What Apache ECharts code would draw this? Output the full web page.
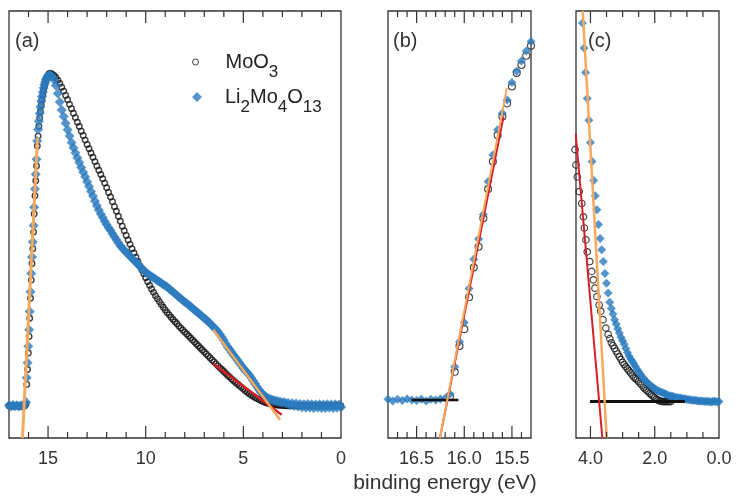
<!DOCTYPE html>
<html>
<head>
<meta charset="utf-8">
<script src="https://cdn.jsdelivr.net/npm/echarts@6/dist/echarts.min.js"></script>
<style>
  html, body { margin: 0; padding: 0; background: #fff; }
  #root { width: 736px; height: 497px; }
</style>
</head>
<body>
<div id="root"></div>
<script>
// ---- panel (a): full spectrum, intensity scaled to the peak ----
var aEnergy = [
  17.0, 16.9, 16.8, 16.7, 16.6, 16.5, 16.4, 16.3, 16.2, 16.13,
  16.09, 16.05, 16.01, 15.97, 15.94, 15.90, 15.86, 15.82, 15.78, 15.74, 15.71, 15.67, 15.63, 15.59, 15.55,
  15.51, 15.47, 15.43, 15.39, 15.35, 15.31, 15.27, 15.23, 15.19, 15.15, 15.11, 15.07, 15.03, 14.99, 14.95, 14.90,
  14.8, 14.7, 14.6, 14.5, 14.4, 14.3, 14.2, 14.1, 14.0, 13.9,
  13.8, 13.7, 13.6, 13.5, 13.4, 13.3, 13.2, 13.1, 13.0, 12.9,
  12.8, 12.7, 12.6, 12.5, 12.4, 12.3, 12.2, 12.1, 12.0, 11.9,
  11.8, 11.7, 11.6, 11.5, 11.4, 11.3, 11.2, 11.1, 11.0, 10.9,
  10.8, 10.7, 10.6, 10.5, 10.4, 10.3, 10.2, 10.1, 10.0, 9.9,
  9.8, 9.7, 9.6, 9.5, 9.4, 9.3, 9.2, 9.1, 9.0, 8.9,
  8.8, 8.7, 8.6, 8.5, 8.4, 8.3, 8.2, 8.1, 8.0, 7.9,
  7.8, 7.7, 7.6, 7.5, 7.4, 7.3, 7.2, 7.1, 7.0, 6.9,
  6.8, 6.7, 6.6, 6.5, 6.4, 6.3, 6.2, 6.1, 6.0, 5.9,
  5.8, 5.7, 5.6, 5.5, 5.4, 5.3, 5.2, 5.1, 5.0, 4.9,
  4.8, 4.7, 4.6, 4.5, 4.4, 4.3, 4.2, 4.1, 4.0, 3.9,
  3.8, 3.7, 3.6, 3.5, 3.4, 3.3, 3.2, 3.1, 3.0, 2.9,
  2.8, 2.7, 2.6, 2.5, 2.4, 2.3, 2.2, 2.1, 2.0, 1.9,
  1.8, 1.7, 1.6, 1.5, 1.4, 1.3, 1.2, 1.1, 1.0, 0.9,
  0.8, 0.7, 0.6, 0.5, 0.4, 0.3, 0.2, 0.1, 0.0
];
var aMoO3 = [
  0, 0.001, -0.001, 0, 0.001, 0, -0.001, 0.001, 0, 0.005,
  0.065, 0.11, 0.16, 0.21, 0.265, 0.325, 0.38, 0.43, 0.475, 0.525, 0.58, 0.635, 0.68, 0.725, 0.785,
  0.815, 0.845, 0.87, 0.89, 0.91, 0.925, 0.94, 0.953, 0.965, 0.975, 0.984, 0.991, 0.996, 1.0, 1.003, 1.005,
  1.003, 0.998, 0.992, 0.984, 0.974, 0.963, 0.951, 0.938, 0.925, 0.911,
  0.898, 0.884, 0.871, 0.857, 0.844, 0.830, 0.817, 0.803, 0.790, 0.777,
  0.764, 0.751, 0.738, 0.725, 0.712, 0.699, 0.686, 0.673, 0.659, 0.645,
  0.631, 0.617, 0.602, 0.588, 0.573, 0.558, 0.543, 0.529, 0.515, 0.501,
  0.488, 0.475, 0.462, 0.449, 0.436, 0.423, 0.411, 0.399, 0.387, 0.375,
  0.364, 0.353, 0.343, 0.333, 0.324, 0.315, 0.306, 0.298, 0.290, 0.282,
  0.275, 0.268, 0.261, 0.254, 0.248, 0.241, 0.235, 0.229, 0.223, 0.217,
  0.211, 0.205, 0.199, 0.193, 0.187, 0.181, 0.175, 0.169, 0.163, 0.157,
  0.151, 0.145, 0.139, 0.133, 0.127, 0.121, 0.115, 0.110, 0.104, 0.098,
  0.092, 0.087, 0.081, 0.076, 0.071, 0.066, 0.061, 0.056, 0.051, 0.046,
  0.041, 0.037, 0.033, 0.029, 0.025, 0.022, 0.019, 0.016, 0.013, 0.011,
  0.009, 0.007, 0.006, 0.005, 0.004, 0.003, 0.002, 0.002, 0.001, 0.001,
  0, 0.001, 0, 0.001, 0, 0.001, 0, 0.001, 0, 0.001,
  0, 0.001, 0, 0.001, 0, 0.001, 0, 0.001, 0, 0.001,
  0, 0.001, 0, 0.001, 0, 0.001, 0, 0.001, 0
];
var aLiMo = [
  0.002, -0.002, 0.003, -0.001, 0.002, -0.002, 0.001, -0.002, 0.003, 0.012,
  0.085, 0.13, 0.18, 0.23, 0.285, 0.345, 0.40, 0.45, 0.495, 0.545, 0.60, 0.655, 0.70, 0.745, 0.80,
  0.835, 0.86, 0.883, 0.903, 0.92, 0.935, 0.948, 0.96, 0.97, 0.978, 0.985, 0.99, 0.995, 0.998, 1.0, 1.0,
  0.995, 0.985, 0.968, 0.944, 0.918, 0.894, 0.874, 0.854, 0.834, 0.815,
  0.796, 0.780, 0.765, 0.750, 0.735, 0.720, 0.706, 0.692, 0.677, 0.663,
  0.648, 0.634, 0.619, 0.605, 0.592, 0.580, 0.569, 0.558, 0.548, 0.538,
  0.530, 0.520, 0.511, 0.502, 0.493, 0.484, 0.477, 0.470, 0.464, 0.458,
  0.452, 0.446, 0.440, 0.434, 0.428, 0.422, 0.416, 0.410, 0.404, 0.399,
  0.395, 0.391, 0.387, 0.383, 0.379, 0.375, 0.371, 0.367, 0.363, 0.359,
  0.354, 0.349, 0.344, 0.339, 0.334, 0.329, 0.324, 0.319, 0.314, 0.310,
  0.305, 0.300, 0.295, 0.290, 0.285, 0.280, 0.275, 0.270, 0.265, 0.260,
  0.255, 0.249, 0.243, 0.237, 0.231, 0.224, 0.216, 0.207, 0.198, 0.188,
  0.178, 0.170, 0.162, 0.154, 0.146, 0.138, 0.130, 0.122, 0.114, 0.107,
  0.100, 0.093, 0.085, 0.076, 0.067, 0.058, 0.049, 0.041, 0.035, 0.030,
  0.025, 0.022, 0.020, 0.018, 0.016, 0.015, 0.013, 0.012, 0.010, 0.011,
  0.007, 0.009, 0.003, 0.008, 0.000, 0.007, -0.002, 0.006, -0.004, 0.005,
  -0.005, 0.006, -0.005, 0.005, -0.006, 0.004, -0.005, 0.005, -0.006, 0.004,
  -0.006, 0.005, -0.005, 0.004, -0.006, 0.005, -0.005, 0.004, -0.004
];
var aEdgeFit = [[16.31, -0.097], [15.54, 0.81]];
var aLiMoFit = [[6.54, 0.230], [3.12, -0.042]];
var aMoO3Fit = [[6.54, 0.127], [3.04, -0.027]];

// ---- panel (b): onset at high binding energy ----
var bEnergy = [16.8, 16.75, 16.7, 16.65, 16.6, 16.55, 16.5, 16.45, 16.4, 16.35, 16.3, 16.25, 16.2,
  16.15, 16.1, 16.05, 16.0, 15.95, 15.9, 15.85, 15.8, 15.75, 15.7, 15.65, 15.6, 15.55, 15.5, 15.45, 15.4, 15.35, 15.3];
var bLiMo = [0.002, -0.003, 0.002, -0.002, 0.003, 0, -0.002, 0.002, -0.003, 0.002, 0, 0.003, 0.005,
  0.018, 0.10, 0.176, 0.234, 0.337, 0.425, 0.486, 0.56, 0.66, 0.74, 0.816, 0.866, 0.906, 0.959, 0.993, 1.024, 1.054, 1.083];
var bMoO3E = [16.15, 16.1, 16.05, 16.0, 15.95, 15.9, 15.85, 15.8, 15.75, 15.7, 15.65, 15.6, 15.55, 15.5, 15.45, 15.4, 15.35, 15.3];
var bMoO3 = [0.01, 0.085, 0.163, 0.214, 0.31, 0.40, 0.463, 0.549, 0.637, 0.72, 0.80, 0.856, 0.896, 0.947, 0.988, 1.012, 1.04, 1.07];
var bLiMoFit = [[16.255, -0.115], [15.553, 0.942]];
var bMoO3Fit = [[16.255, -0.115], [15.588, 0.856]];
var bBase = [[16.553, 0], [16.062, 0]];

// ---- panel (c): low binding energy tail (intensity x1e-3 of the peak) ----
var cMoO3E = [4.48, 4.45, 4.41, 4.35, 4.27, 4.22, 4.19, 4.14, 4.10, 4.02,
  3.96, 3.91, 3.86, 3.80, 3.73, 3.68, 3.61, 3.52, 3.45, 3.40,
  3.35, 3.30, 3.25, 3.20, 3.15, 3.10, 3.05, 3.00, 2.95, 2.90,
  2.85, 2.80, 2.75, 2.70, 2.65, 2.60, 2.55, 2.50, 2.45, 2.40,
  2.35, 2.30, 2.25, 2.20, 2.15, 2.10, 2.05, 2.00, 1.95, 1.90,
  1.85, 1.80, 1.75, 1.70, 1.65, 1.60, 1.55, 1.50];
var cMoO3 = [36.0, 33.8, 32.1, 30.0, 28.3, 26.4, 24.8, 23.1, 21.4, 20.0,
  18.6, 17.4, 16.2, 15.0, 13.8, 12.9, 11.7, 10.5, 9.6, 9.0,
  8.4, 8.0, 7.6, 7.2, 6.8, 6.4, 6.0, 5.6, 5.3, 5.0,
  4.7, 4.4, 4.1, 3.8, 3.5, 3.3, 3.1, 2.85, 2.6, 2.35,
  2.05, 1.8, 1.6, 1.4, 1.15, 0.95, 0.75, 0.55, 0.35, 0.2,
  0.1, 0.05, 0, 0, 0, 0, 0, 0];
var cLiMoE = [4.25, 4.2, 4.15, 4.1, 4.05, 4.0, 3.95, 3.9, 3.85, 3.8,
  3.75, 3.7, 3.65, 3.6, 3.55, 3.5, 3.45, 3.4, 3.35, 3.3,
  3.25, 3.2, 3.15, 3.1, 3.05, 3.0, 2.95, 2.9, 2.85, 2.8,
  2.75, 2.7, 2.65, 2.6, 2.55, 2.5, 2.45, 2.4, 2.35, 2.3,
  2.25, 2.2, 2.15, 2.1, 2.05, 2.0, 1.95, 1.9, 1.85, 1.8,
  1.75, 1.7, 1.65, 1.6, 1.55, 1.5, 1.45, 1.4, 1.35, 1.3,
  1.25, 1.2, 1.15, 1.1, 1.05, 1.0, 0.95, 0.9, 0.85, 0.8,
  0.75, 0.7, 0.65, 0.6, 0.55, 0.5, 0.45, 0.4, 0.35, 0.3,
  0.25, 0.2, 0.15, 0.1, 0.05, 0.0];
var cLiMo = [54.1, 50.5, 47.0, 43.3, 40.2, 37.0, 34.3, 31.6, 29.4, 27.4,
  25.3, 23.3, 21.7, 20.0, 18.3, 16.9, 15.5, 14.2, 13.3, 12.5,
  11.7, 11.1, 10.4, 9.8, 9.2, 8.7, 8.2, 7.6, 7.0, 6.5,
  6.1, 5.75, 5.4, 5.0, 4.6, 4.25, 3.95, 3.6, 3.3, 3.05,
  2.8, 2.6, 2.4, 2.2, 2.0, 1.85, 1.7, 1.55, 1.45, 1.35,
  1.25, 1.15, 1.05, 0.95, 0.85, 0.8, 0.75, 0.7, 0.6, 0.6,
  0.5, 0.5, 0.45, 0.4, 0.4, 0.3, 0.3, 0.25, 0.2, 0.2,
  0.2, 0.15, 0.1, 0.1, 0.1, 0.05, 0, 0.05, 0, 0,
  -0.05, 0, 0.05, 0, -0.05, 0];
var cLiMoFit = [[4.24, 55.8], [3.495, -5.2]];
var cMoO3Fit = [[4.46, 38.3], [3.63, -5.2]];
var cBase = [[4.015, 0], [1.06, 0]];

// ---- axis ranges and tick values ----
var X_RANGE = [[0, 17], [15.3, 16.8], [0, 4.45]];
var Y_RANGE = [[-0.097, 1.193], [-0.115, 1.175], [-5.2, 55.8]];
var aMajor = [5, 10, 15];
var aMinor = [1, 2, 3, 4, 6, 7, 8, 9, 11, 12, 13, 14, 16];
var bMajor = [15.5, 16.0, 16.5];
var bMinor = [15.4, 15.6, 15.7, 15.8, 15.9, 16.1, 16.2, 16.3, 16.4, 16.6, 16.7];
var cMajor = [2, 4];
var cMinor = [0.5, 1, 1.5, 2.5, 3, 3.5];

var FONT = '"Liberation Sans", Arial, Helvetica, sans-serif';
var BLUE = '#2a7abf';
var ORANGE = '#f6a85c';
var RED = '#d62028';
var INK = '#333';

function pairs (xs, ys) {
  return xs.map(function (x, i) { return [x, ys[i]]; });
}

function isStep (v, step) {
  var k = v / step;
  return Math.abs(k - Math.round(k)) < 1e-6;
}

function ax (i, step, labelStep, digits) {
  return {
    type: 'value', gridIndex: i, position: 'bottom', min: X_RANGE[i][0], max: X_RANGE[i][1], interval: step, inverse: true,
    axisLine: { show: false, onZero: false },
    splitLine: { show: false },
    axisTick: { show: false },
    axisLabel: {
      show: true, margin: 12, fontSize: 18, color: INK, fontFamily: FONT,
      formatter: function (v) { return isStep(v, labelStep) ? Number(v).toFixed(digits) : ''; }
    }
  };
}

function circles (i, data, size, bw) {
  return {
    name: 'MoO3', type: 'scatter', xAxisIndex: i, yAxisIndex: i, data: data, clip: false,
    symbol: 'circle', symbolSize: size, silent: true,
    itemStyle: { color: 'rgba(0,0,0,0)', borderColor: '#111', borderWidth: bw }
  };
}
function diamonds (i, data, size) {
  return {
    name: 'Li2Mo4O13', type: 'scatter', xAxisIndex: i, yAxisIndex: i, data: data, clip: false,
    symbol: 'diamond', symbolSize: size, silent: true,
    itemStyle: { color: BLUE }
  };
}
function fit (i, data, color, width) {
  return {
    type: 'line', xAxisIndex: i, yAxisIndex: i, data: data, symbol: 'none', silent: true,
    lineStyle: { color: color, width: width }, z: 3
  };
}

var subNames = { 'MoO3': 'MoO{s|3}', 'Li2Mo4O13': 'Li{s|2}Mo{s|4}O{s|13}' };
function legendText (pad) {
  return {
    fontSize: 20, color: '#222', fontFamily: FONT, lineHeight: 38, padding: [0, 0, 0, pad],
    rich: { s: { fontSize: 17, color: '#222', fontFamily: FONT, verticalAlign: 'bottom' } }
  };
}

function label (x, y, text, size, align) {
  return {
    type: 'text', x: x, y: y, z: 10,
    style: { text: text, fontSize: size, fontFamily: FONT, fill: INK, textAlign: align, align: align, textVerticalAlign: 'middle', verticalAlign: 'middle' }
  };
}
var texts = [
  label(15, 41, '(a)', 20, 'left'),
  label(393, 41, '(b)', 20, 'left'),
  label(588, 41, '(c)', 20, 'left'),
  label(445, 483, 'binding energy (eV)', 21, 'center')
];

var chart = echarts.init(document.getElementById('root'));
var gridBase = { show: true, borderColor: INK, borderWidth: 1.3 };

chart.setOption({
  animation: false,
  backgroundColor: '#fff',
  grid: [
    Object.assign({ left: 9, top: 11, width: 332, height: 427 }, gridBase),
    Object.assign({ left: 388, top: 11, width: 143, height: 427 }, gridBase),
    Object.assign({ left: 576, top: 11, width: 143, height: 427 }, gridBase)
  ],
  xAxis: [ax(0, 5, 5, 0), ax(1, 0.1, 0.5, 1), ax(2, 2, 2, 1)],
  yAxis: Y_RANGE.map(function (r, i) {
    return { type: 'value', gridIndex: i, min: r[0], max: r[1], show: false };
  }),
  legend: [
    {
      data: [{ name: 'MoO3', icon: 'circle' }], left: 192, top: 43, padding: 0,
      itemWidth: 6, itemHeight: 6, selectedMode: false,
      formatter: function (n) { return subNames[n]; },
      itemStyle: { color: 'rgba(0,0,0,0)', borderColor: '#111', borderWidth: 1 },
      textStyle: legendText(22)
    },
    {
      data: [{ name: 'Li2Mo4O13', icon: 'diamond' }], left: 192, top: 78, padding: 0,
      itemWidth: 10, itemHeight: 10, selectedMode: false,
      formatter: function (n) { return subNames[n]; },
      itemStyle: { color: BLUE, borderWidth: 0 },
      textStyle: legendText(18)
    }
  ],
  series: [
    circles(0, pairs(aEnergy, aMoO3), 5.5, 1.4),
    diamonds(0, pairs(aEnergy, aLiMo), 10),
    fit(0, aEdgeFit, ORANGE, 3),
    fit(0, aMoO3Fit, RED, 2.5),
    fit(0, aLiMoFit, ORANGE, 2.5),

    circles(1, pairs(bMoO3E, bMoO3), 7, 1.1),
    diamonds(1, pairs(bEnergy, bLiMo), 9),
    fit(1, bBase, '#111', 2.5),
    fit(1, bMoO3Fit, RED, 2),
    fit(1, bLiMoFit, ORANGE, 2),

    circles(2, pairs(cMoO3E, cMoO3), 6.5, 1.2),
    diamonds(2, pairs(cLiMoE, cLiMo), 9),
    fit(2, cBase, '#111', 3),
    fit(2, cLiMoFit, ORANGE, 2.5),
    fit(2, cMoO3Fit, RED, 2)
  ]
});

// inward ticks on the top and bottom frame edges, placed through each panel's scatter series
var PANEL_SERIES = [0, 5, 10];
function toPx (i, pt) {
  var finders = [{ seriesIndex: PANEL_SERIES[i] }, { gridIndex: i }, { xAxisIndex: i, yAxisIndex: i }];
  for (var k = 0; k < finders.length; k++) {
    var p = null;
    try { p = chart.convertToPixel(finders[k], pt); } catch (e) { p = null; }
    if (p && isFinite(p[0]) && isFinite(p[1])) return p;
  }
  return null;
}

var tickEls = [];
[[aMajor, aMinor], [bMajor, bMinor], [cMajor, cMinor]].forEach(function (set, i) {
  [[set[0], 12], [set[1], 6]].forEach(function (group) {
    group[0].forEach(function (v) {
      var b = toPx(i, [v, Y_RANGE[i][0]]);
      var t = toPx(i, [v, Y_RANGE[i][1]]);
      if (!b || !t) return;
      tickEls.push({ type: 'line', z: 20, shape: { x1: b[0], y1: b[1], x2: b[0], y2: b[1] - group[1] }, style: { stroke: INK, lineWidth: 1.2 } });
      tickEls.push({ type: 'line', z: 20, shape: { x1: t[0], y1: t[1], x2: t[0], y2: t[1] + group[1] }, style: { stroke: INK, lineWidth: 1.2 } });
    });
  });
});

chart.setOption({ graphic: { elements: texts.concat(tickEls) } });
</script>
</body>
</html>
